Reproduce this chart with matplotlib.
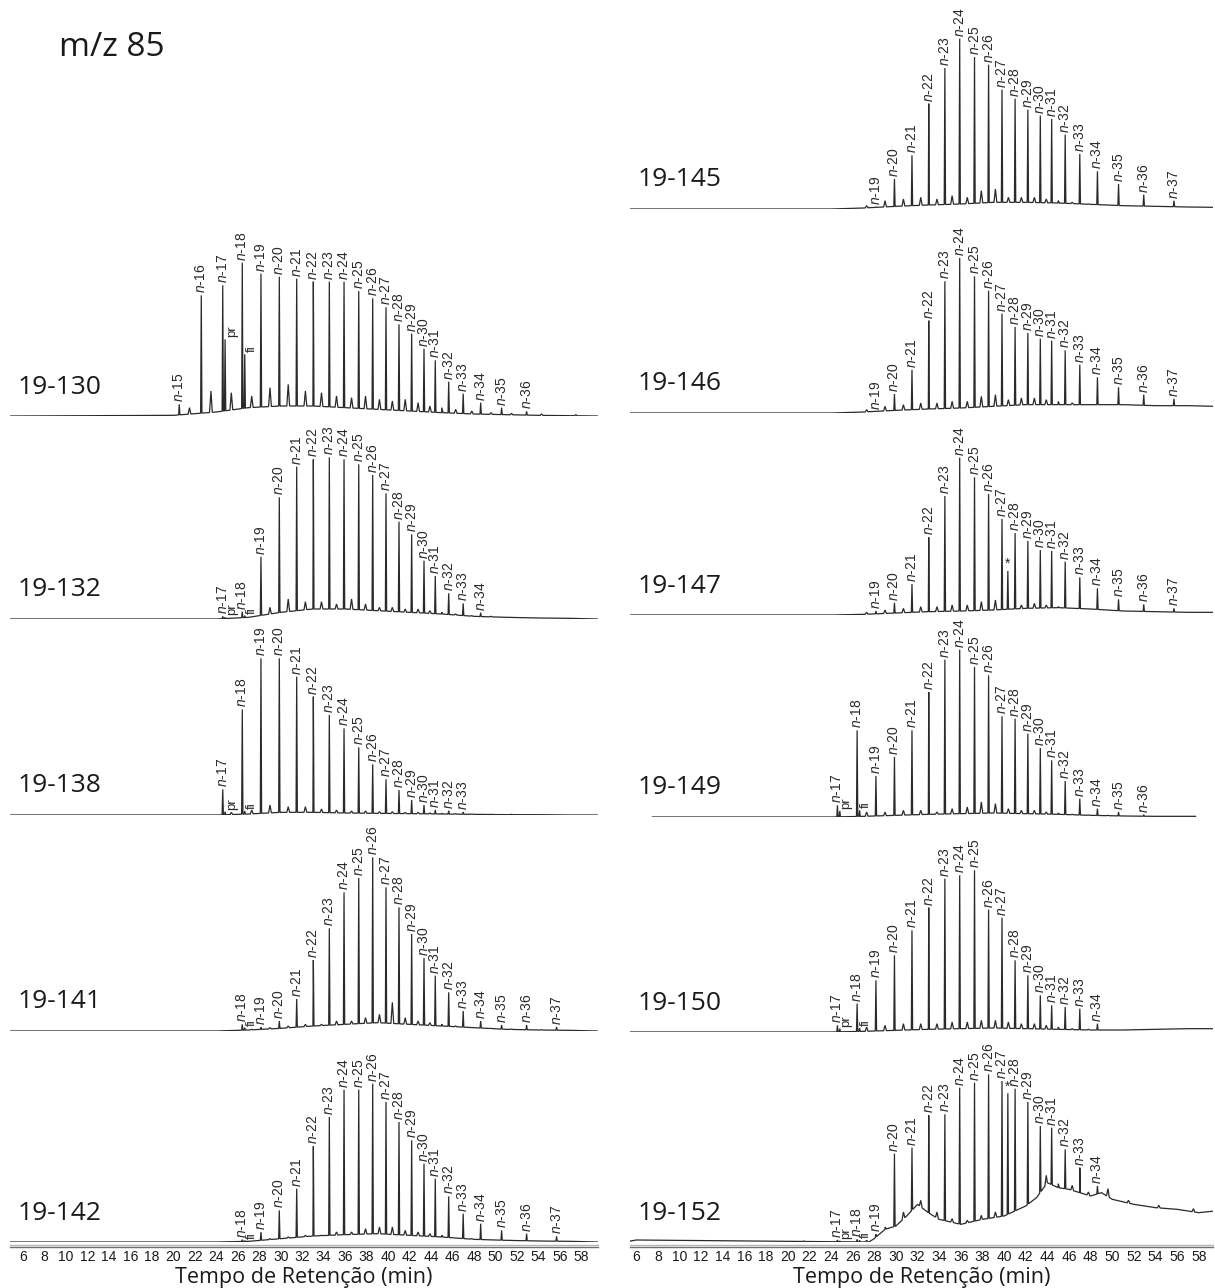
import numpy as np
import matplotlib
matplotlib.use("Agg")
import matplotlib.pyplot as plt

plt.rcParams["font.family"] = ["Liberation Sans", "DejaVu Sans"]
plt.rcParams["mathtext.fontset"] = "custom"
plt.rcParams["mathtext.rm"] = "Liberation Sans"
plt.rcParams["mathtext.it"] = "Liberation Sans:italic"

# ──────────────────────────────────────────
# Dados (intensidade em unidades arbitrárias)
# ──────────────────────────────────────────
AMOSTRAS_ESQ = ["19-130", "19-132", "19-138", "19-141", "19-142"]
AMOSTRAS_DIR = ["19-145", "19-146", "19-147", "19-149", "19-150", "19-152"]

COMPOSTOS = ["n-15", "n-16", "n-17", "pr", "n-18", "fi", "n-19", "n-20", "n-21",
             "n-22", "n-23", "n-24", "n-25", "n-26", "n-27", "*", "n-28", "n-29",
             "n-30", "n-31", "n-32", "n-33", "n-34", "n-35", "n-36", "n-37"]
TEMPO = [20.55, 22.6, 24.6, 24.82, 26.42, 26.65, 28.16, 29.87, 31.49, 33.04,
         34.53, 35.9, 37.27, 38.57, 39.81, 40.35, 41.02, 42.2, 43.35, 44.4,
         45.65, 47.0, 48.63, 50.58, 52.91, 55.7]

# altura do ápice de cada pico (None = pico não marcado)
P130 = [35, 362, 392, 230, 460, 185, 427, 418, 412, 403, 403, 403, 375, 353, 326, None,
        275, 247, 202, 167, 103, 67, 40, 25, 14, None]
P132 = [None, None, 8, 5, 22, 10, 187, 365, 457, 479, 485, 479, 464, 432, 377, None,
        292, 254, 175, 129, 77, 47, 19, None, None, None]
P138 = [None, None, 77, 10, 317, 12, 470, 470, 415, 355, 300, 260, 203, 152, 107, None,
        75, 45, 30, 15, 13, 9, None, None, None, None]
P141 = [None, None, None, None, 20, 10, 12, 30, 96, 213, 308, 416, 459, 521, 431, None,
        371, 291, 219, 166, 116, 60, 30, 18, 18, 12]
P142 = [None, None, None, None, 7, 4, 30, 95, 160, 287, 375, 457, 457, 475, 420, None,
        360, 305, 235, 190, 137, 85, 55, 35, 25, 17]
P145 = [None, None, None, None, None, None, 6, 90, 161, 316, 423, 511, 456, 433, 358, None,
        331, 298, 280, 270, 223, 165, 113, 75, 43, 25]
P146 = [None, None, None, None, None, None, 3, 57, 130, 277, 395, 465, 410, 367, 298, None,
        258, 240, 223, 217, 188, 145, 107, 77, 55, 43]
P147 = [None, None, None, None, None, None, 12, 37, 93, 233, 357, 472, 413, 363, 288, 132,
        246, 222, 195, 192, 160, 113, 80, 47, 32, 20]
P149 = [None, None, 35, 18, 260, 20, 123, 180, 260, 375, 472, 502, 450, 425, 302, None,
        295, 250, 207, 170, 108, 55, 25, 15, 7, None]
P150 = [None, None, 20, 10, 85, 12, 155, 230, 305, 373, 460, 470, 485, 367, 343, None,
        215, 170, 110, 80, 75, 70, 25, None, None, None]
P152 = [None, None, 6, 3, 8, 5, 23, 265, 283, 380, 383, 463, 478, 503, 483, 446,
        460, 420, 348, 343, 278, 223, 168, None, None, None]

# linha de base / mistura complexa não resolvida (UCM)
TEMPO_BASE = [5, 20, 24, 27, 30, 33, 36, 39, 42, 45, 48, 51, 54, 57, 59.5]
B130 = [0, 2, 12, 25, 30, 30, 25, 20, 15, 10, 6, 4, 2, 1, 0]
B132 = [0, 0, 0, 5, 20, 30, 30, 25, 20, 15, 8, 5, 3, 2, 0]
B138 = [0, 0, 0, 3, 8, 8, 6, 5, 4, 3, 2, 1, 1, 0, 0]
B141 = [0, 0, 0, 3, 8, 15, 20, 25, 20, 15, 10, 5, 3, 2, 0]
B142 = [0, 0, 0, 2, 10, 18, 22, 25, 20, 15, 8, 5, 3, 2, 0]
B145 = [0, 0, 0, 3, 8, 12, 15, 20, 20, 18, 14, 10, 8, 6, 5]
B146 = [0, 0, 0, 3, 8, 12, 15, 20, 25, 25, 25, 25, 22, 22, 20]
B147 = [0, 0, 0, 2, 6, 10, 12, 15, 20, 22, 18, 12, 10, 8, 8]
B149 = [0, 0, 0, 2, 5, 8, 10, 12, 10, 8, 5, 3, 2, 2, 2]
B150 = [0, 0, 0, 2, 5, 8, 10, 12, 10, 8, 6, 6, 8, 10, 10]
# 19-152 tem UCM bem marcada, lida com mais detalhe
TEMPO_BASE_152 = [5, 5.5, 6, 20, 27.5, 28, 29, 30, 31, 32, 33, 34, 36, 38, 40, 42, 43,
                  44, 45, 46, 47, 48, 49, 50, 52, 54, 56, 58, 59.5]
B152 = [8, 3, 6, 2, 0, 10, 38, 48, 78, 113, 88, 68, 53, 68, 78, 108, 133,
        178, 163, 158, 148, 138, 148, 128, 113, 103, 98, 88, 93]

# picos menores não identificados
TEMPO_MENOR = [21.5, 23.5, 25.4, 27.3, 29.0, 30.7, 32.3, 33.8, 35.2, 36.6, 37.9, 39.2,
               40.4, 41.6, 42.8, 43.9, 45.0, 46.3, 47.8, 49.6, 51.5, 54.3, 57.5]
M130 = [25, 75, 70, 60, 85, 95, 75, 70, 60, 55, 60, 50, 45, 50, 40, 30, 25, 20, 15, 10, 8, 6, 4]
M132 = [0, 0, 0, 5, 35, 60, 52, 52, 45, 60, 45, 35, 35, 30, 30, 25, 20, 15, 10, 8, 5, 3, 0]
M138 = [0, 0, 8, 15, 30, 25, 25, 18, 15, 12, 12, 10, 10, 8, 8, 6, 5, 4, 3, 2, 2, 1, 0]
M141 = [0, 0, 0, 5, 10, 15, 20, 20, 30, 30, 40, 50, 86, 40, 30, 25, 20, 15, 10, 8, 6, 4, 0]
M142 = [0, 0, 0, 3, 10, 15, 20, 20, 30, 30, 40, 45, 45, 35, 30, 25, 20, 12, 10, 6, 5, 3, 0]
M145 = [0, 0, 0, 10, 25, 30, 35, 30, 40, 35, 55, 60, 35, 35, 35, 30, 25, 20, 15, 10, 8, 6, 4]
M146 = [0, 0, 0, 10, 20, 25, 30, 30, 35, 35, 50, 55, 40, 45, 45, 40, 35, 30, 25, 20, 15, 10, 8]
M147 = [0, 0, 0, 8, 15, 20, 25, 25, 30, 30, 40, 45, 0, 30, 35, 30, 25, 20, 15, 10, 8, 6, 4]
M149 = [0, 0, 0, 15, 15, 20, 20, 15, 25, 30, 45, 40, 25, 20, 20, 15, 12, 8, 6, 5, 3, 2, 0]
M150 = [0, 0, 0, 15, 20, 25, 25, 25, 30, 30, 35, 35, 30, 25, 25, 20, 15, 10, 8, 5, 3, 2, 0]
M152 = [3, 0, 0, 5, 45, 90, 125, 90, 70, 65, 80, 90, 0, 100, 125, 200, 175, 170, 150, 160, 125, 110, 100]

# início e fim de cada corrida (min)
INICIO_ESQ = [4.8, 4.8, 4.8, 4.8, 4.8]
FIM_ESQ = [59.5, 59.5, 59.5, 59.5, 59.5]
INICIO_DIR = [5.4, 5.4, 5.4, 7.5, 5.4, 5.4]
FIM_DIR = [59.3, 59.3, 59.3, 57.7, 59.3, 59.3]

PICOS = {"19-130": P130, "19-132": P132, "19-138": P138, "19-141": P141, "19-142": P142,
         "19-145": P145, "19-146": P146, "19-147": P147, "19-149": P149, "19-150": P150,
         "19-152": P152}
BASES = {"19-130": (TEMPO_BASE, B130), "19-132": (TEMPO_BASE, B132),
         "19-138": (TEMPO_BASE, B138), "19-141": (TEMPO_BASE, B141),
         "19-142": (TEMPO_BASE, B142), "19-145": (TEMPO_BASE, B145),
         "19-146": (TEMPO_BASE, B146), "19-147": (TEMPO_BASE, B147),
         "19-149": (TEMPO_BASE, B149), "19-150": (TEMPO_BASE, B150),
         "19-152": (TEMPO_BASE_152, B152)}
MENORES = {"19-130": M130, "19-132": M132, "19-138": M138, "19-141": M141, "19-142": M142,
           "19-145": M145, "19-146": M146, "19-147": M147, "19-149": M149, "19-150": M150,
           "19-152": M152}

# ──────────────────────────────────────────
# Layout (pixels da figura)
# ──────────────────────────────────────────
W, H = 1215, 1288
fig = plt.figure(figsize=(W / 100, H / 100), dpi=100)

COLUNAS = [
    # x0, x1, tempo inicial, tempo final, amostras, linhas de base (y), inicio, fim
    (10, 598, 4.78, 59.56, AMOSTRAS_ESQ, [416, 619, 815, 1031, 1242], INICIO_ESQ, FIM_ESQ),
    (630, 1213, 5.43, 59.31, AMOSTRAS_DIR, [209, 413, 615, 817, 1032, 1242], INICIO_DIR, FIM_DIR),
]
Y_EIXO = 1247
COR = "#2a2a2a"
LARG_PICO = 0.06
LARG_MENOR = 0.13


def eixo_px(x0, x1, y_base, altura):
    return fig.add_axes([x0 / W, 1 - y_base / H, (x1 - x0) / W, altura / H])


def monta_traco(ini, fim, base, picos, menores):
    grade, valores = base

    def nivel(t):
        return np.interp(t, grade, valores)

    pts = [(ini, nivel(ini)), (fim, nivel(fim))]
    pts += [(t, b) for t, b in zip(grade, valores) if ini < t < fim]
    eventos = [(t, h, LARG_PICO) for t, h in zip(TEMPO, picos)]
    eventos += [(t, h, LARG_MENOR) for t, h in zip(TEMPO_MENOR, menores)]
    for t, h, w in eventos:
        if h is None or not (ini < t < fim) or h <= nivel(t):
            continue
        pts += [(t - w, nivel(t - w)), (t, h), (t + w, nivel(t + w))]
    pts.sort(key=lambda p: p[0])
    xs, ys = zip(*pts)
    return xs, ys


for x0, x1, t0, t1, amostras, bases_y, inicios, fins in COLUNAS:
    for amostra, y_base, ini, fim in zip(amostras, bases_y, inicios, fins):
        ax = eixo_px(x0, x1, y_base, 240)
        ax.set_xlim(t0, t1)
        ax.set_ylim(0, 240 * 3)
        ax.axis("off")

        xs, ys = monta_traco(ini, fim, BASES[amostra], PICOS[amostra], MENORES[amostra])
        ax.plot(xs, ys, color=COR, lw=0.9, solid_joinstyle="miter")

        for nome, t, h in zip(COMPOSTOS, TEMPO, PICOS[amostra]):
            if h is None:
                continue
            if nome == "*":
                ax.annotate("*", (t, h), xytext=(0, 0), textcoords="offset points",
                            ha="center", va="bottom", fontsize=10, color=COR)
            elif nome in ("pr", "fi"):
                ax.annotate(nome, (t, h), xytext=(0.5, 1.5), textcoords="offset points",
                            rotation=90, ha="left", va="bottom", fontsize=9.5, color=COR)
            else:
                rotulo = r"$n$-" + nome.split("-")[1]
                ax.annotate(rotulo, (t, h), xytext=(0, 1.5), textcoords="offset points",
                            rotation=90, ha="center", va="bottom", fontsize=10, color=COR)

        fig.text((x0 + 8) / W, 1 - (y_base - 29) / H, amostra, family="Open Sans",
                 fontsize=19, color="#1a1a1a", ha="left", va="center")

    # eixo do tempo de retenção
    axx = eixo_px(x0, x1, Y_EIXO, 2.5)
    axx.set_xlim(t0, t1)
    axx.set_yticks([])
    for lado in ("left", "right"):
        axx.spines[lado].set_visible(False)
    axx.spines["top"].set_color("#b5b5b5")
    axx.spines["bottom"].set_color("#6e6e6e")
    axx.spines["top"].set_linewidth(1.0)
    axx.spines["bottom"].set_linewidth(1.0)
    axx.set_xticks(np.arange(6, 59, 2))
    axx.tick_params(axis="x", length=0, pad=2, labelsize=10, colors="#1a1a1a")
    axx.patch.set_alpha(0)
    fig.text((x0 + x1) / 2 / W, 1 - 1283 / H, "Tempo de Retenção (min)",
             family="Open Sans", fontsize=15.5, color="#1a1a1a", ha="center", va="baseline")

fig.text(112 / W, 1 - 48 / H, "m/z 85", family="Open Sans", fontsize=24,
         color="#1a1a1a", ha="center", va="center")

plt.savefig("out.png", dpi=100)
